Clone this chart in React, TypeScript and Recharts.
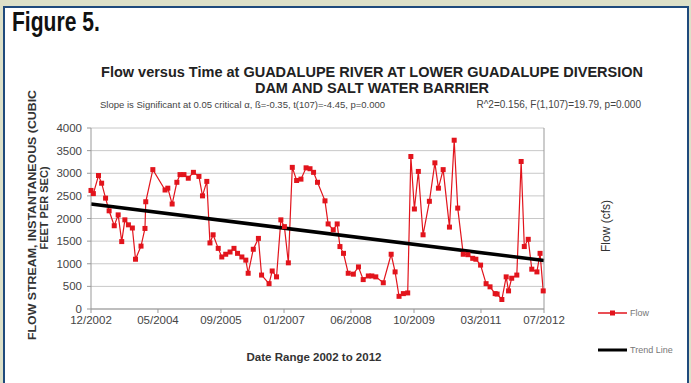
import React from "react";
import { LineChart, Line, XAxis, YAxis, CartesianGrid } from "recharts";

// months since 12/2002
const flowMonths = [
  0.0, 0.6, 1.9, 2.7, 3.7, 4.6, 5.9, 6.9, 7.8, 8.6, 9.5, 10.5, 11.3, 12.7, 13.7, 13.9, 15.7,
  18.8, 19.5, 20.6, 21.8, 22.6, 23.6, 24.7, 26.0, 27.4, 28.3, 29.4, 30.2, 31.0, 32.3, 33.2,
  34.2, 35.3, 36.3, 37.2, 38.3, 39.3, 39.9, 41.2, 42.5, 43.3, 45.2, 46.0, 47.1, 48.2, 49.1,
  50.1, 51.1, 52.2, 53.3, 54.6, 55.6, 56.5, 57.5, 59.4, 60.2, 61.5, 62.5, 63.2, 64.1, 65.3,
  66.6, 67.9, 69.1, 70.4, 71.3, 72.3, 74.2, 76.2, 77.2, 78.2, 79.3, 80.4, 81.2, 82.1, 83.1,
  84.3, 85.9, 87.3, 88.2, 89.4, 91.0, 92.2, 93.1, 94.5, 95.7, 96.9, 97.7, 98.9, 100.3, 101.3,
  102.6, 103.1, 104.3, 105.4, 106.0, 106.8, 108.1, 109.2, 110.0, 111.0, 111.9, 113.2, 114.0, 114.8,
];
const flowValues = [
  2620, 2550, 2950, 2780, 2450, 2170, 1840, 2080, 1490, 1970, 1860, 1790, 1100, 1390, 1780, 2370, 3080,
  2630, 2670, 2320, 2800, 2970, 2970, 2890, 3020, 2930, 2500, 2820, 1460, 1640, 1340, 1150,
  1210, 1260, 1340, 1230, 1150, 1080, 790, 1320, 1560, 750, 560, 840, 710, 1970, 1820,
  1020, 3130, 2840, 2870, 3120, 3100, 3020, 2800, 2390, 1880, 1750, 1880, 1380, 1230, 790,
  770, 930, 650, 730, 730, 710, 580, 1210, 820, 280, 340, 355, 3370, 2210, 3040,
  1640, 2380, 3230, 2670, 3080, 1810, 3730, 2230, 1210, 1200, 1120, 1100, 970, 560, 490,
  340, 330, 210, 710, 400, 680, 750, 3260, 1380, 1540, 880, 820, 1230, 400,
];
const trendMonths = [0, 115];
const trendValues = [2320, 1070];

const xTickMonths = [0, 17, 33, 49, 66, 82, 99, 115];
const xTickLabels = ["12/2002", "05/2004", "09/2005", "01/2007", "06/2008", "10/2009", "03/2011", "07/2012"];
const yTicks = [0, 500, 1000, 1500, 2000, 2500, 3000, 3500, 4000];

const flowData = flowMonths.map((m, i) => ({ m, flow: flowValues[i] }));
const trendData = trendMonths.map((m, i) => ({ m, trend: trendValues[i] }));

const RED = "#e2141c";
const FONT = "'Liberation Sans', Arial, sans-serif";

const SquareDot = (props: any) => {
  const { cx, cy } = props;
  if (cx == null || cy == null) return null;
  return <rect x={cx - 2.5} y={cy - 2.5} width={5} height={5} fill={RED} />;
};

export default function App() {
  return (
    <div style={{ position: "absolute", left: 0, top: 0, width: 691, height: 383, background: "#dde0c8", overflow: "hidden" }}>
      <div style={{ position: "absolute", left: 3, top: 6, width: 682, height: 400, background: "#fff", borderTop: "2px solid #1f4a7c", borderLeft: "2px solid #1f4a7c", borderRight: "2px solid #1f4a7c" }} />
      <div style={{ position: "absolute", left: 12, top: 7, fontFamily: FONT, fontWeight: "bold", fontSize: 27, color: "#111", transform: "scaleX(0.78)", transformOrigin: "left top", whiteSpace: "nowrap" }}>
        Figure 5.
      </div>
      <div style={{ position: "absolute", left: 0, top: 0 }}>
        <LineChart width={691} height={383} margin={{ top: 128, right: 97, bottom: 44, left: 0 }}>
          <CartesianGrid horizontal={true} vertical={false} stroke="#c8c8c8" yAxisId="left" />
          <XAxis
            dataKey="m"
            type="number"
            domain={[0, 115]}
            ticks={xTickMonths}
            allowDuplicatedCategory={false}
            tickFormatter={(v: number) => xTickLabels[xTickMonths.indexOf(v)] ?? ""}
            tick={{ fontSize: 11.5, fill: "#444", fontFamily: FONT }}
            stroke="#999"
            tickSize={4}
            tickMargin={3}
            height={30}
            interval={0}
          />
          <YAxis
            yAxisId="left"
            domain={[0, 4000]}
            ticks={yTicks}
            width={91}
            tick={{ fontSize: 11.5, fill: "#444", fontFamily: FONT }}
            stroke="#999"
            tickSize={4}
            tickMargin={5}
            interval={0}
          />
          <YAxis
            yAxisId="right"
            orientation="right"
            domain={[0, 4000]}
            ticks={yTicks}
            width={50}
            tick={{ fontSize: 11.5, fill: "#444", fontFamily: FONT, textAnchor: "start" }}
            stroke="#999"
            tickSize={4}
            tickMargin={7}
            interval={0}
          />
          <Line
            yAxisId="left"
            data={flowData}
            dataKey="flow"
            stroke={RED}
            strokeWidth={1.2}
            dot={<SquareDot />}
            isAnimationActive={false}
            name="Flow"
          />
          <Line
            yAxisId="left"
            data={trendData}
            dataKey="trend"
            stroke="#000"
            strokeWidth={3.5}
            dot={false}
            isAnimationActive={false}
            name="Trend Line"
          />
        </LineChart>
      </div>
      <svg width={691} height={383} style={{ position: "absolute", left: 0, top: 0, pointerEvents: "none" }} fontFamily={FONT}>
        <text x={372} y={77} textAnchor="middle" fontSize={14.5} fontWeight="bold" fill="#222">
          Flow versus Time at GUADALUPE RIVER AT LOWER GUADALUPE DIVERSION
        </text>
        <text x={372} y={93} textAnchor="middle" fontSize={14.5} fontWeight="bold" fill="#222">
          DAM AND SALT WATER BARRIER
        </text>
        <text x={100} y={108} fontSize={9.5} fill="#444">
          Slope is Significant at 0.05 critical α, ß=-0.35, t(107)=-4.45, p=0.000
        </text>
        <text x={641} y={108} textAnchor="end" fontSize={10} fill="#444">
          R^2=0.156, F(1,107)=19.79, p=0.000
        </text>
        <text transform="translate(36,215) rotate(-90)" textAnchor="middle" fontSize={11} fontWeight="bold" fill="#333" textLength={250} lengthAdjust="spacingAndGlyphs">
          FLOW STREAM, INSTANTANEOUS (CUBIC
        </text>
        <text transform="translate(48,208) rotate(-90)" textAnchor="middle" fontSize={11} fontWeight="bold" fill="#333">
          FEET PER SEC)
        </text>
        <text transform="translate(610,226) rotate(-90)" textAnchor="middle" fontSize={12} fill="#333">
          Flow (cfs)
        </text>
        <text x={314} y={361} textAnchor="middle" fontSize={11.5} fontWeight="bold" fill="#333">
          Date Range 2002 to 2012
        </text>
        {/* legend */}
        <line x1={598} y1={313} x2={627} y2={313} stroke={RED} strokeWidth={1.5} />
        <rect x={610} y={310.5} width={5} height={5} fill={RED} />
        <text x={630} y={316} fontSize={9} fill="#777">Flow</text>
        <line x1={598} y1={350} x2={627} y2={350} stroke="#000" strokeWidth={3} />
        <text x={630} y={353} fontSize={9} fill="#777">Trend Line</text>
      </svg>
    </div>
  );
}
